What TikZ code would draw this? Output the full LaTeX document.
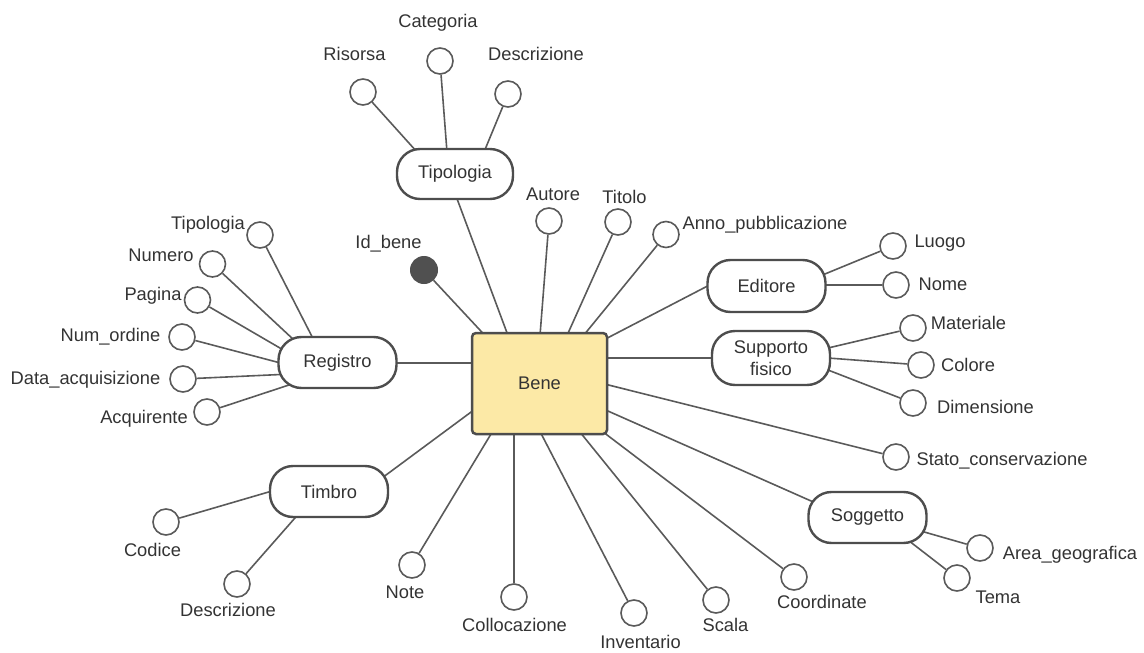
\documentclass[tikz,border=0pt]{standalone}
\usepackage{fontspec}
\setmainfont{Liberation Sans}
\usetikzlibrary{calc,backgrounds}
\definecolor{linec}{HTML}{5A5A5A}
\definecolor{boxc}{HTML}{4D4D4D}
\definecolor{textc}{HTML}{333333}
\definecolor{benef}{HTML}{FCE9A6}
\definecolor{keyc}{HTML}{505050}
\newcommand{\diagfont}{\fontsize{18.3pt}{22pt}\selectfont}
\begin{document}
\begin{tikzpicture}[x=1pt,y=-1pt,
  conn/.style={draw=linec,line width=1.6pt},
  ent/.style={draw=boxc,line width=2.4pt,rounded corners=23pt,fill=white,minimum width=118pt,minimum height=51pt,inner sep=0pt,text=textc,font=\diagfont,align=center},
  attr/.style={circle,draw=linec,line width=1.6pt,fill=white,minimum size=26pt,inner sep=0pt},
  keyattr/.style={circle,fill=keyc,draw=keyc,line width=1pt,minimum size=27pt,inner sep=0pt},
  lbl/.style={inner sep=0pt,text=textc,font=\diagfont,text height=13pt,text depth=0pt},
]
\useasboundingbox (0,0) rectangle (1144,653);

% central entity
\node[draw=boxc,line width=2.5pt,fill=benef,rounded corners=4pt,minimum width=135pt,minimum height=101pt,text=textc,font=\diagfont] (bene) at (539.5,383.5) {Bene};

% sub-entities
\node[ent,minimum width=116pt,minimum height=50pt] (tip) at (455,174) {Tipologia};
\node[ent] (reg) at (337.5,362.5) {Registro};
\node[ent,minimum height=52pt] (edi) at (766.5,286) {Editore};
\node[ent,minimum height=54pt] (sup) at (771,358) {Supporto\\fisico};
\node[ent] (sog) at (867.5,517.5) {Soggetto};
\node[ent] (tim) at (329,491.5) {Timbro};

% attribute circles
\node[attr] (cris) at (363,92) {};
\node[attr] (ccat) at (440,61) {};
\node[attr] (cdes) at (508,94) {};
\node[attr] (caut) at (549,221) {};
\node[attr] (ctit) at (618,222) {};
\node[attr] (cann) at (666,234.5) {};
\node[keyattr] (cid) at (424,270) {};
\node[attr] (crtip) at (260,235) {};
\node[attr] (cnum) at (212.5,264) {};
\node[attr] (cpag) at (197.5,300) {};
\node[attr] (cord) at (182,337) {};
\node[attr] (cdat) at (183,379) {};
\node[attr] (cacq) at (207,412) {};
\node[attr] (cluo) at (893,246) {};
\node[attr] (cnom) at (896,285) {};
\node[attr] (cmat) at (913,328) {};
\node[attr] (ccol) at (921,365) {};
\node[attr] (cdim) at (913,403) {};
\node[attr] (csta) at (896,457) {};
\node[attr] (carea) at (980,548) {};
\node[attr] (ctema) at (957,578) {};
\node[attr] (ccoo) at (794,577) {};
\node[attr] (csca) at (716,600) {};
\node[attr] (cinv) at (634,613) {};
\node[attr] (ccoll) at (514,597) {};
\node[attr] (cnote) at (412,565) {};
\node[attr] (ccod) at (166,522) {};
\node[attr] (ctdes) at (237,584) {};

% labels
\node[lbl] (lris) at (354.5,54) {Risorsa};
\node[lbl] (lcat) at (438,21) {Categoria};
\node[lbl] (ldes) at (536,54) {Descrizione};
\node[lbl] (laut) at (553,194) {Autore};
\node[lbl] (ltit) at (624.5,196.5) {Titolo};
\node[lbl] (lann) at (765,223) {Anno\_pubblicazione};
\node[lbl] (lid) at (388.5,242) {Id\_bene};
\node[lbl] (lrtip) at (208,223) {Tipologia};
\node[lbl] (lnum) at (161,255) {Numero};
\node[lbl] (lpag) at (153,294) {Pagina};
\node[lbl] (lord) at (110.5,335) {Num\_ordine};
\node[lbl] (ldat) at (85.5,378) {Data\_acquisizione};
\node[lbl] (lacq) at (144,417) {Acquirente};
\node[lbl] (lluo) at (940,241) {Luogo};
\node[lbl] (lnom) at (943,284) {Nome};
\node[lbl] (lmat) at (968.5,323) {Materiale};
\node[lbl] (lcol) at (968,365) {Colore};
\node[lbl] (ldim) at (985.5,407) {Dimensione};
\node[lbl] (lsta) at (1002,459) {Stato\_conservazione};
\node[lbl] (larea) at (1070,553) {Area\_geografica};
\node[lbl] (ltema) at (998,597) {Tema};
\node[lbl] (lcoo) at (822,602) {Coordinate};
\node[lbl] (lsca) at (725.5,625) {Scala};
\node[lbl] (linv) at (640.5,642) {Inventario};
\node[lbl] (lcoll) at (514.5,625) {Collocazione};
\node[lbl] (lnote) at (405,592) {Note};
\node[lbl] (lcod) at (152.5,550) {Codice};
\node[lbl] (ltdes) at (228,610) {Descrizione};

\begin{pgfonlayer}{background}
% Tipologia
\draw[conn] (cris) -- ($(tip.center)+(-38,-22)$);
\draw[conn] (ccat) -- ($(tip.center)+(-8,-22)$);
\draw[conn] (cdes) -- ($(tip.center)+(29,-22)$);
\draw[conn] ($(tip.center)+(1,22)$) -- ($(bene.center)+(-31.5,-48)$);
% Bene attributes and links
\draw[conn] (cid) -- ($(bene.center)+(-54.5,-48)$);
\draw[conn] (caut) -- ($(bene.center)+(0.5,-48)$);
\draw[conn] (ctit) -- ($(bene.center)+(27.5,-48)$);
\draw[conn] (cann) -- ($(bene.center)+(44,-48)$);
\draw[conn] ($(edi.center)+(-57,-1)$) -- ($(bene.center)+(65,-44)$);
\draw[conn] ($(sup.center)+(-57,0)$) -- ($(bene.center)+(65,-25.5)$);
\draw[conn] (csta) -- ($(bene.center)+(65,0.5)$);
\draw[conn] ($(sog.center)+(-53,-15)$) -- ($(bene.center)+(65,26)$);
\draw[conn] (ccoo) -- ($(bene.center)+(63,48)$);
\draw[conn] (csca) -- ($(bene.center)+(40,48)$);
\draw[conn] (cinv) -- ($(bene.center)+(0.5,48)$);
\draw[conn] (ccoll) -- ($(bene.center)+(-25.5,48)$);
\draw[conn] (cnote) -- ($(bene.center)+(-47,48)$);
\draw[conn] ($(tim.center)+(55,-15)$) -- ($(bene.center)+(-65,26)$);
\draw[conn] ($(reg.center)+(55,0.5)$) -- ($(bene.center)+(-65,-20.5)$);
% Registro
\draw[conn] (crtip) -- ($(reg.center)+(-24,-23)$);
\draw[conn] (cnum) -- ($(reg.center)+(-43,-22)$);
\draw[conn] (cpag) -- ($(reg.center)+(-55,-13)$);
\draw[conn] (cord) -- ($(reg.center)+(-57,0.5)$);
\draw[conn] (cdat) -- ($(reg.center)+(-57,12)$);
\draw[conn] (cacq) -- ($(reg.center)+(-47,22)$);
% Editore
\draw[conn] (cluo) -- ($(edi.center)+(56,-11)$);
\draw[conn] (cnom) -- ($(edi.center)+(57,-1)$);
% Supporto fisico
\draw[conn] (cmat) -- ($(sup.center)+(57,-10)$);
\draw[conn] (ccol) -- ($(sup.center)+(57,0)$);
\draw[conn] (cdim) -- ($(sup.center)+(57,12)$);
% Soggetto
\draw[conn] (carea) -- ($(sog.center)+(55,14)$);
\draw[conn] (ctema) -- ($(sog.center)+(41,23)$);
% Timbro
\draw[conn] (ccod) -- ($(tim.center)+(-57,-0.5)$);
\draw[conn] (ctdes) -- ($(tim.center)+(-31,23)$);
\end{pgfonlayer}
\end{tikzpicture}
\end{document}
